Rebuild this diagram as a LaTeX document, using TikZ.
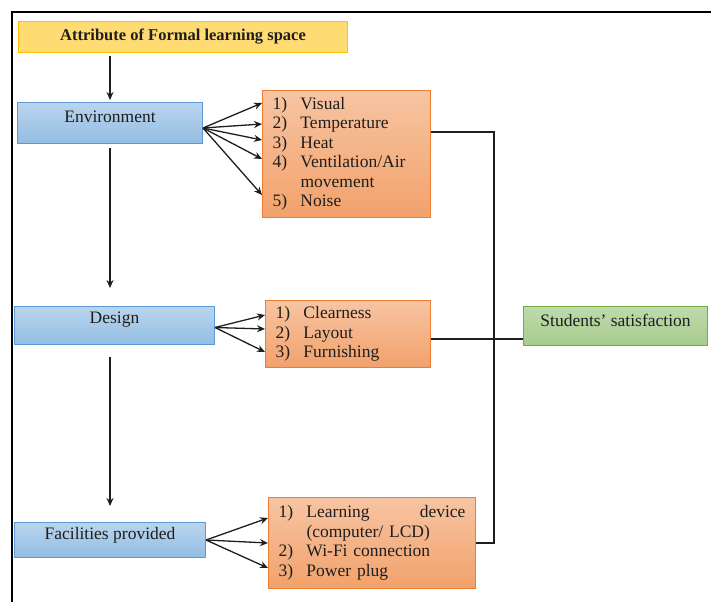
\documentclass[tikz,border=0pt]{standalone}
\usepackage{fontspec}
\setmainfont{Liberation Serif}
\usetikzlibrary{arrows.meta}
\tikzset{>={Stealth[length=8pt,width=7pt]}}
\definecolor{boxblue}{HTML}{5B9BD5}
\definecolor{boxorange}{HTML}{ED7D31}
\definecolor{boxgreen}{HTML}{70AD47}
\definecolor{boxgold}{HTML}{FFC000}
\definecolor{ink}{HTML}{1E1E1E}
\tikzset{
  every node/.style={text=ink, font=\fontsize{17.5}{19.5}\selectfont},
  bluebox/.style={draw=boxblue, line width=1, top color=boxblue!42!white,
    bottom color=boxblue!66!white, anchor=north west, inner ysep=3, inner xsep=0, align=center},
  listbox/.style={draw=boxorange, line width=1, top color=boxorange!45!white,
    bottom color=boxorange!72!white, anchor=north west, inner xsep=10, align=left},
  arr/.style={->, draw=ink, line width=1.3},
  link/.style={draw=ink, line width=1.3}
}
\newcommand{\itm}[2]{\makebox[28pt][l]{#1}#2}

\begin{document}
\begin{tikzpicture}[x=1pt, y=-1pt]
    \useasboundingbox (0,0) rectangle (711,602);
    \draw[line width=2] (12,602) -- (12,12) -- (711,12);
    % attribute boxes
    \node[draw=boxgold, line width=1, fill=boxgold!55!white, anchor=north west,
      minimum width=329, minimum height=31, font=\fontsize{16.5}{18}\selectfont\bfseries]
      (title) at (18,21) {Attribute of Formal learning space};
    \node[bluebox, minimum width=185, text height=17, text depth=18] (env) at (17,102) {Environment};
    \node[bluebox, minimum width=200, text height=14, text depth=18] (des) at (14,306) {Design};
    \node[bluebox, minimum width=191, text height=14, text depth=15] (fac) at (14,522) {Facilities provided};
    % item boxes
    \node[listbox, text width=148, minimum height=127] (envl) at (262,90)
      {\itm{1)}{Visual}\\ \itm{2)}{Temperature}\\ \itm{3)}{Heat}\\
       \itm{4)}{Ventilation/Air}\\ \itm{}{movement}\\ \itm{5)}{Noise}};
    \node[listbox, text width=145, minimum height=67] (desl) at (265,300)
      {\itm{1)}{Clearness}\\ \itm{2)}{Layout}\\ \itm{3)}{Furnishing}};
    \node[listbox, text width=187, minimum height=91] (facl) at (268,497)
      {\itm{1)}{\makebox[159pt][l]{Learning\hfill device}}\\ \itm{}{(computer/ LCD)}\\
       \itm{2)}{Wi-Fi connection}\\ \itm{3)}{Power plug}};
    \node[draw=boxgreen, line width=1, top color=boxgreen!45!white, bottom color=boxgreen!62!white,
      anchor=north west, minimum width=184, inner ysep=3, text height=17, text depth=16]
      (sat) at (523,306) {Students' satisfaction};
    % arrows down the left
    \draw[arr, shorten <=3, shorten >=2] (env.north |- title.south) -- (env.north);
    \draw[arr, shorten <=4, shorten >=18] (env.south) -- (env.south |- des.north);
    \draw[arr, shorten <=12, shorten >=16] (fac.north |- des.south) -- (fac.north);
    % fans
    \foreach \d in {13,34,50,69,105}
      \draw[arr] ([yshift=-5]env.east) -- ([yshift=-\d]envl.north west);
    \foreach \d in {15,29,52}
      \draw[arr] ([yshift=-2]des.east) -- ([yshift=-\d]desl.north west);
    \foreach \d in {21,46,71}
      \draw[arr] (fac.east) -- ([yshift=-\d]facl.north west);
    % links to satisfaction
    \draw[link] ([yshift=-42]envl.north east) -| ([xshift=18]facl.east) -- (facl.east);
    \draw[link] ([yshift=-5]desl.east) -- ([yshift=-5]desl.east -| sat.west);
\end{tikzpicture}
\end{document}
